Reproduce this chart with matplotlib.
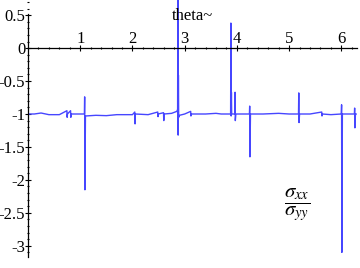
import matplotlib
matplotlib.use("Agg")
import matplotlib.pyplot as plt
from matplotlib.ticker import MultipleLocator, FixedLocator, FixedFormatter

SERIF = ["Liberation Serif", "DejaVu Serif"]
plt.rcParams["font.family"] = SERIF
plt.rcParams["mathtext.fontset"] = "stix"
plt.rcParams["axes.unicode_minus"] = False

# sigma_xx / sigma_yy against theta (spikes are pairs
# of points very close together)
theta = [
    0.0, 0.12, 0.25, 0.4, 0.6, 0.745, 0.75, 0.755, 0.815, 0.82, 0.825,
    1.0, 1.08, 1.085, 1.09, 1.1, 1.3, 1.5, 1.7, 2.0, 2.045, 2.05, 2.055,
    2.3, 2.485, 2.49, 2.495, 2.595, 2.6, 2.605, 2.75, 2.85, 2.865, 2.87,
    2.875, 2.88, 2.885, 2.9, 3.0, 3.115, 3.12, 3.125, 3.4, 3.6, 3.7,
    3.88, 3.885, 3.89, 3.895, 3.9, 3.96, 3.965, 3.97, 3.98, 4.1,
    4.24, 4.245, 4.25, 4.26, 4.5, 4.8, 5.0, 5.18, 5.185, 5.19, 5.2,
    5.4, 5.625, 5.63, 5.635, 5.8, 6.0, 6.005, 6.01, 6.02, 6.1,
    6.25, 6.255, 6.26, 6.27, 6.283,
]
ratio = [
    -1.0, -1.0, -0.985, -1.01, -1.01, -0.95, -1.05, -1.0, -0.95, -1.05, -1.0,
    -1.0, -1.0, -0.74, -2.15, -1.03, -1.02, -1.025, -1.01, -1.01, -0.97, -1.15, -1.0,
    -1.01, -0.97, -1.04, -1.0, -0.98, -1.1, -1.0, -0.99, -0.96, -0.93, 1.0,
    -1.32, -0.41, -1.05, -1.02, -1.0, -0.96, -1.03, -1.0, -1.0, -0.99, -1.0,
    -1.0, 0.38, -1.03, -0.67, -1.0, -1.0, -0.67, -1.1, -1.0, -1.0,
    -1.0, -0.88, -1.65, -1.0, -1.0, -0.99, -1.0, -1.0, -0.68, -1.13, -1.0,
    -1.0, -0.97, -1.03, -1.0, -1.01, -1.0, -0.86, -3.1, -1.0, -1.0,
    -1.0, -0.91, -1.21, -1.0, -1.0,
]

x_ticks = [1, 2, 3, 4, 5, 6]
y_ticks = [0.5, 0, -0.5, -1, -1.5, -2, -2.5, -3]
y_tick_labels = ["0.5", "0", "-0.5", "-1", "-1.5", "-2", "-2.5", "-3"]

fig = plt.figure(figsize=(3.6, 2.68), dpi=100)
ax = fig.add_axes([28 / 360, 11 / 268, 329 / 360, 257 / 268])

ax.plot(theta, ratio, color="#4646ff", linewidth=1.0)

ax.set_xlim(0, 6.3)
ax.set_ylim(-3.17, 0.73)

# Maple-like axes crossing at the origin
ax.spines["top"].set_visible(False)
ax.spines["right"].set_visible(False)
ax.spines["left"].set_position(("data", 0))
ax.spines["bottom"].set_position(("data", 0))
ax.spines["left"].set_bounds(-3.17, 0.52)
for s in ("left", "bottom"):
    ax.spines[s].set_linewidth(0.9)

ax.xaxis.set_major_locator(FixedLocator(x_ticks))
ax.xaxis.set_minor_locator(MultipleLocator(0.2))
ax.yaxis.set_major_locator(FixedLocator(y_ticks))
ax.yaxis.set_major_formatter(FixedFormatter(y_tick_labels))
ax.yaxis.set_minor_locator(MultipleLocator(0.1))

ax.tick_params(axis="x", which="major", direction="inout", length=4,
               width=0.8, labelsize=12, pad=-14)
ax.tick_params(axis="x", which="minor", direction="inout", length=2, width=0.8)
ax.tick_params(axis="y", which="major", direction="inout", length=4,
               width=0.8, labelsize=12, pad=0)
ax.tick_params(axis="y", which="minor", direction="inout", length=2, width=0.8)
for lbl in ax.get_xticklabels() + ax.get_yticklabels():
    lbl.set_family(SERIF)

ax.text(2.75, 0.42, "theta~", fontsize=12, family=SERIF,
        ha="left", va="baseline")
ax.text(5.15, -2.39, r"$\dfrac{\sigma_{xx}}{\sigma_{yy}}$", fontsize=15,
        ha="center", va="center")

fig.savefig("out.png", dpi=100)
